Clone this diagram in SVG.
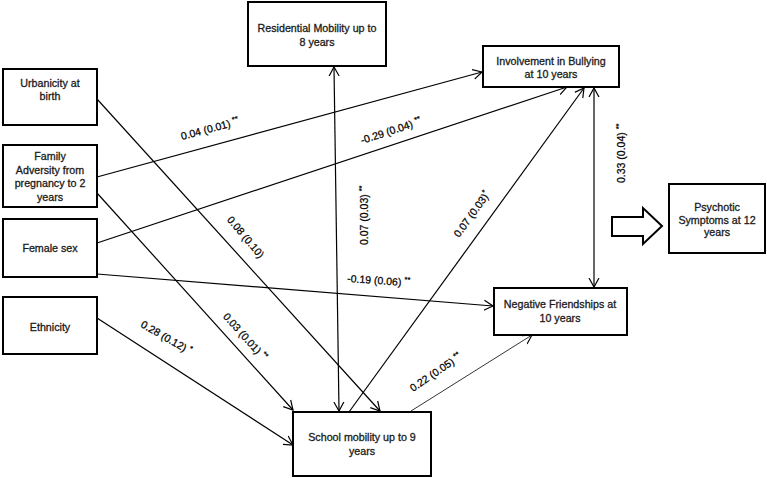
<svg xmlns="http://www.w3.org/2000/svg" width="767" height="478" viewBox="0 0 767 478">
<style>
.box{fill:#fff;stroke:#000;stroke-width:2}
.t{font-family:"Liberation Sans",Arial,sans-serif;font-size:10.7px;fill:#1a1a1a;stroke:#1a1a1a;stroke-width:0.3;text-anchor:middle}
.l{font-family:"Liberation Sans",Arial,sans-serif;font-size:10.5px;fill:#000;stroke:#000;stroke-width:0.25}
.s{font-size:7.5px}
.c{stroke:#000;stroke-width:1.2;fill:none}
</style>
<defs>
<marker id="ah" markerUnits="userSpaceOnUse" markerWidth="12" markerHeight="12" refX="9" refY="5" orient="auto-start-reverse" viewBox="0 0 12 10">
<path d="M0,0 L9,5 L0,10" fill="none" stroke="#000" stroke-width="1.2"/>
</marker>
</defs>
<rect width="767" height="478" fill="#fff"/>
<g id="connectors">
<line class="c" x1="97" y1="99" x2="380" y2="411" marker-end="url(#ah)"/>
<line class="c" x1="97" y1="177" x2="482" y2="72" marker-end="url(#ah)"/>
<line class="c" x1="97" y1="193" x2="293" y2="410" marker-end="url(#ah)"/>
<line class="c" x1="97" y1="243" x2="567" y2="87" marker-end="url(#ah)"/>
<line class="c" x1="97" y1="274" x2="493" y2="306" marker-end="url(#ah)"/>
<line class="c" x1="97" y1="318" x2="293" y2="445" marker-end="url(#ah)"/>
<line class="c" x1="334" y1="67" x2="339" y2="411" marker-start="url(#ah)" marker-end="url(#ah)"/>
<line class="c" x1="349" y1="412" x2="584" y2="88" marker-end="url(#ah)"/>
<line class="c" x1="594" y1="88" x2="594" y2="287" marker-start="url(#ah)" marker-end="url(#ah)"/>
<line class="c" style="stroke-width:0.8" x1="411" y1="411" x2="532" y2="335" marker-end="url(#ah)"/>
<polygon points="612,217 643,217 643,208 662,226 643,244 643,236 612,236" fill="#fff" stroke="#000" stroke-width="2"/>
<text class="l" transform="translate(182,140) rotate(-15)">0.04 (0.01) <tspan class="s" dy="-4">**</tspan></text>
<text class="l" transform="translate(362,144) rotate(-18)">-0.29 (0.04) <tspan class="s" dy="-4">**</tspan></text>
<text class="l" transform="translate(226.5,220) rotate(50)">0.08 (0.10)</text>
<text class="l" transform="translate(368,245) rotate(-90)">0.07 (0.03) <tspan class="s" dy="-4">**</tspan></text>
<text class="l" transform="translate(459,238) rotate(-54)">0.07 (0.03)<tspan class="s" dy="-4">*</tspan></text>
<text class="l" transform="translate(347,282) rotate(4)">-0.19 (0.06) <tspan class="s" dy="-4">**</tspan></text>
<text class="l" transform="translate(625,183) rotate(-90)">0.33 (0.04) <tspan class="s" dy="-4">**</tspan></text>
<text class="l" transform="translate(222.5,317) rotate(48)">0.03 (0.01) <tspan class="s" dy="-4">**</tspan></text>
<text class="l" transform="translate(140,326.5) rotate(30)">0.28 (0.12) <tspan class="s" dy="-4">*</tspan></text>
<text class="l" transform="translate(413,392) rotate(-34)">0.22 (0.05) <tspan class="s" dy="-4">**</tspan></text>
</g>
<g id="urbanicity">
<rect class="box" x="3" y="69" width="94" height="56"/>
<text class="t" x="50" y="87">Urbanicity at</text>
<text class="t" x="50" y="100">birth</text>
</g>
<g id="family">
<rect class="box" x="3" y="145" width="94" height="62"/>
<text class="t" x="50" y="160">Family</text>
<text class="t" x="50" y="173.5">Adversity from</text>
<text class="t" x="50" y="187">pregnancy to 2</text>
<text class="t" x="50" y="200.5">years</text>
</g>
<g id="female">
<rect class="box" x="3" y="219" width="94" height="58"/>
<text class="t" x="50" y="252">Female sex</text>
</g>
<g id="ethnicity">
<rect class="box" x="3" y="297" width="94" height="57"/>
<text class="t" x="50" y="331">Ethnicity</text>
</g>
<g id="residential">
<rect class="box" x="248" y="2" width="138" height="64"/>
<text class="t" x="317" y="31.5">Residential Mobility up to</text>
<text class="t" x="317" y="45.5">8 years</text>
</g>
<g id="bullying">
<rect class="box" x="483" y="46" width="136" height="41"/>
<text class="t" x="551" y="64.5">Involvement in Bullying</text>
<text class="t" x="551" y="77.5">at 10 years</text>
</g>
<g id="friendships">
<rect class="box" x="494" y="288" width="133" height="47"/>
<text class="t" x="560" y="308">Negative Friendships at</text>
<text class="t" x="560" y="322">10 years</text>
</g>
<g id="psychotic">
<rect class="box" x="669" y="184" width="96" height="69"/>
<text class="t" x="717" y="211">Psychotic</text>
<text class="t" x="717" y="223.5">Symptoms at 12</text>
<text class="t" x="717" y="236">years</text>
</g>
<g id="school">
<rect class="box" x="293" y="412" width="138" height="64"/>
<text class="t" x="362" y="441">School mobility up to 9</text>
<text class="t" x="362" y="455">years</text>
</g>
</svg>
